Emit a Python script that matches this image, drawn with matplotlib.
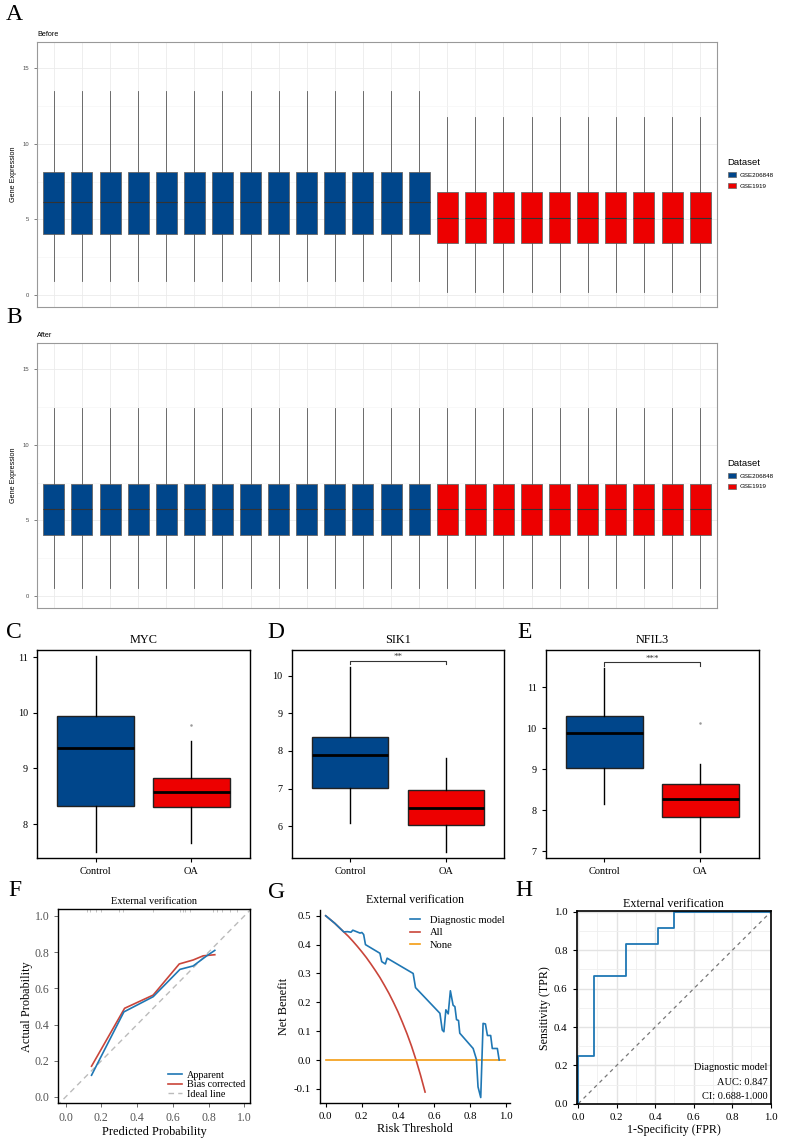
import numpy as np
import matplotlib
matplotlib.use("Agg")
import matplotlib.pyplot as plt
from matplotlib.patches import Patch
from matplotlib.ticker import MultipleLocator

W, H = 788, 1144

# ---- data ----
datasets = ["GSE206848", "GSE1919"]
n_samples = [14, 10]
# per-sample box stats: whislo, q1, median, q3, whishi
before_stats = [[0.93, 4.05, 6.15, 8.17, 13.5], [0.22, 3.46, 5.12, 6.80, 11.8]]
after_stats = [[0.53, 4.03, 5.73, 7.41, 12.43], [0.53, 4.03, 5.73, 7.41, 12.43]]

groups = ["Control", "OA"]
genes = ["MYC", "SIK1", "NFIL3"]
gene_stats = {
    "MYC": [[7.49, 8.32, 9.37, 9.94, 11.02], [7.66, 8.31, 8.58, 8.82, 9.49]],
    "SIK1": [[6.10, 7.01, 7.90, 8.38, 10.24], [5.31, 6.03, 6.49, 6.96, 7.81]],
    "NFIL3": [[8.15, 9.04, 9.88, 10.31, 11.47], [6.97, 7.82, 8.28, 8.63, 9.13]],
}
gene_outliers = {"MYC": [[], [9.79]], "SIK1": [[], []], "NFIL3": [[], [10.12]]}
gene_signif = {"MYC": None, "SIK1": "**", "NFIL3": "***"}

cal_pred_app = [0.145, 0.326, 0.49, 0.64, 0.714, 0.79, 0.835]
cal_app = [0.12, 0.47, 0.554, 0.705, 0.724, 0.78, 0.81]
cal_pred_bc = [0.145, 0.33, 0.49, 0.636, 0.714, 0.77, 0.835]
cal_bc = [0.17, 0.49, 0.563, 0.735, 0.757, 0.78, 0.786]
cal_rug = [0.12, 0.136, 0.17, 0.2, 0.30, 0.32, 0.49, 0.64, 0.655, 0.668, 0.696,
           0.826, 0.845, 0.878, 0.92, 0.957]

dca_thr = [0.0, 0.05, 0.1, 0.12, 0.14, 0.15, 0.17, 0.19, 0.2, 0.21, 0.22, 0.30,
           0.31, 0.33, 0.34, 0.484, 0.497, 0.632, 0.645, 0.654, 0.665, 0.678, 0.69,
           0.705, 0.715, 0.724, 0.735, 0.742, 0.816, 0.834, 0.843, 0.858, 0.871,
           0.884, 0.895, 0.913, 0.922, 0.95, 0.96]
dca_model = [0.5, 0.474, 0.444, 0.445, 0.443, 0.45, 0.445, 0.44, 0.442, 0.435, 0.40,
             0.37, 0.341, 0.333, 0.353, 0.30, 0.251, 0.162, 0.104, 0.098, 0.174,
             0.16, 0.24, 0.19, 0.185, 0.14, 0.137, 0.093, 0.04, 0.003, -0.093,
             -0.13, 0.127, 0.125, 0.085, 0.085, 0.04, 0.04, 0.0]
dca_all_thr = [0.0, 0.025, 0.05, 0.075, 0.1, 0.125, 0.15, 0.175, 0.2, 0.225, 0.25,
               0.275, 0.3, 0.325, 0.35, 0.375, 0.4, 0.425, 0.45, 0.475, 0.5, 0.525, 0.55]
dca_all = [0.5, 0.487, 0.474, 0.459, 0.444, 0.429, 0.412, 0.394, 0.375, 0.355, 0.333,
           0.310, 0.286, 0.259, 0.231, 0.2, 0.167, 0.130, 0.091, 0.048, 0.0, -0.053, -0.111]
dca_none_thr = [0.0, 0.99]
dca_none = [0.0, 0.0]

roc_fpr = [0, 0, 0.083, 0.083, 0.25, 0.25, 0.417, 0.417, 0.5, 0.5, 1.0]
roc_tpr = [0, 0.25, 0.25, 0.667, 0.667, 0.833, 0.833, 0.917, 0.917, 1.0, 1.0]
auc_text = ["Diagnostic model", "AUC: 0.847", "CI: 0.688-1.000"]

BLUE = "#00468B"
RED = "#ED0000"
SANS = "Liberation Sans"
SERIF = "Liberation Serif"

plt.rcParams["font.family"] = SERIF

fig = plt.figure(figsize=(W / 100, H / 100), dpi=100)


def px_axes(l, t, r, b):
    return fig.add_axes([l / W, 1 - b / H, (r - l) / W, (b - t) / H])


def letter(x, y, s):
    fig.text(x / W, 1 - y / H, s, fontsize=17, family=SERIF, va="center", ha="left")


def stats_dict(s, fliers=()):
    return dict(whislo=s[0], q1=s[1], med=s[2], q3=s[3], whishi=s[4], fliers=list(fliers))


def fmt1(vals):
    return [f"{v:.1f}" for v in vals]


# ---- A / B : batch boxplots ----
def batch_panel(top, bottom, title, stats):
    ax = px_axes(37, top, 717, bottom)
    boxes, colors = [], []
    for s, n, c in zip(stats, n_samples, [BLUE, RED]):
        boxes += [stats_dict(s) for _ in range(n)]
        colors += [c] * n
    pos = np.arange(1, len(boxes) + 1)
    art = ax.bxp(boxes, positions=pos, widths=0.75, patch_artist=True, showcaps=False,
                 showfliers=False,
                 boxprops=dict(edgecolor="#666666", linewidth=0.6),
                 medianprops=dict(color="#333333", linewidth=0.8),
                 whiskerprops=dict(color="#555555", linewidth=0.6))
    for p, c in zip(art["boxes"], colors):
        p.set_facecolor(c)
    ax.set_xlim(0.4, len(boxes) + 0.6)
    ax.set_ylim(-0.8, 16.75)
    ax.set_xticks(pos)
    ax.set_xticklabels([])
    ax.tick_params(axis="x", length=0)
    ax.yaxis.set_major_locator(MultipleLocator(5))
    ax.yaxis.set_minor_locator(MultipleLocator(2.5))
    ax.tick_params(axis="y", which="major", labelsize=4.2, colors="#4D4D4D", length=2, width=0.5)
    ax.tick_params(axis="y", which="minor", length=0)
    for lab in ax.get_yticklabels():
        lab.set_family(SANS)
    ax.grid(which="major", color="#EBEBEB", linewidth=0.6)
    ax.grid(which="minor", axis="y", color="#F4F4F4", linewidth=0.4)
    ax.set_axisbelow(True)
    for sp in ax.spines.values():
        sp.set_color("#999999")
        sp.set_linewidth(0.8)
    ax.set_ylabel("Gene Expression", fontsize=5.2, family=SANS, labelpad=4)
    ax.set_title(title, fontsize=5.2, family=SANS, loc="left", pad=4)
    handles = [Patch(facecolor=BLUE, edgecolor="#666666", linewidth=0.5),
               Patch(facecolor=RED, edgecolor="#666666", linewidth=0.5)]
    yc = (top + bottom) / 2
    leg = fig.legend(handles, datasets, title="Dataset", loc="upper left",
                     bbox_to_anchor=(725 / W, 1 - (yc - 19) / H), frameon=False,
                     prop=dict(family=SANS, size=4.5), handlelength=1.3, handleheight=0.9,
                     handletextpad=0.6, labelspacing=0.8, borderaxespad=0)
    leg.get_title().set_fontsize(6.8)
    leg.get_title().set_family(SANS)
    leg._legend_box.align = "left"


batch_panel(42, 307, "Before", before_stats)
batch_panel(343, 608, "After", after_stats)
letter(6, 15, "A")
letter(6, 318, "B")

# ---- C / D / E : gene boxplots ----
gene_lefts = [(37, 250), (291.7, 504.3), (545.7, 758.7)]
gene_ylims = {"MYC": (7.39, 11.13), "SIK1": (5.16, 10.68), "NFIL3": (6.83, 11.91)}
for (l, r), g, lt, lx in zip(gene_lefts, genes, ["C", "D", "E"], [6, 267, 517]):
    ax = px_axes(l, 650, r, 858)
    bs = [stats_dict(s, f) for s, f in zip(gene_stats[g], gene_outliers[g])]
    art = ax.bxp(bs, positions=[1, 2], widths=0.8, patch_artist=True, showcaps=False,
                 boxprops=dict(edgecolor="#222222", linewidth=1.0),
                 medianprops=dict(color="black", linewidth=2.0),
                 whiskerprops=dict(color="black", linewidth=1.0),
                 flierprops=dict(marker="o", markersize=1.8, markerfacecolor="#999999",
                                 markeredgecolor="none"))
    for p, c in zip(art["boxes"], [BLUE, RED]):
        p.set_facecolor(c)
    ax.set_xlim(0.39, 2.61)
    ax.set_ylim(*gene_ylims[g])
    ax.yaxis.set_major_locator(MultipleLocator(1))
    ax.set_xticks([1, 2])
    ax.set_xticklabels(groups, fontsize=7.5)
    ax.tick_params(axis="y", labelsize=7.3, length=3, width=0.8)
    ax.tick_params(axis="x", length=3, width=0.8)
    for sp in ax.spines.values():
        sp.set_linewidth(1.0)
    ax.set_title(g, fontsize=8.8, pad=5)
    if gene_signif[g]:
        span = gene_ylims[g][1] - gene_ylims[g][0]
        top = gene_stats[g][0][4] + span * 0.027
        tip = top - span * 0.015
        ax.plot([1, 1, 2, 2], [tip, top, top, tip], color="#333333", lw=0.8)
        ax.text(1.5, top, gene_signif[g], ha="center", va="bottom", fontsize=6.5, color="#333333")
    letter(lx, 633, lt)

# ---- F : calibration ----
ax = px_axes(58.3, 909.3, 250, 1103.3)
ax.plot([-0.05, 1.05], [-0.05, 1.05], color="#BBBBBB", lw=1.0, ls=(0, (4, 3)), label="Ideal line", zorder=1)
ax.plot(cal_pred_app, cal_app, color="#1F77B4", lw=1.2, label="Apparent", zorder=3)
ax.plot(cal_pred_bc, cal_bc, color="#C9453A", lw=1.2, label="Bias corrected", zorder=2)
ax.vlines(cal_rug, 1.02, 1.037, color="#BBBBBB", lw=0.6)
ax.set_xlim(-0.041, 1.032)
ax.set_ylim(-0.035, 1.037)
ticks = np.arange(0, 1.01, 0.2)
ax.set_xticks(ticks)
ax.set_yticks(ticks)
ax.set_xticklabels(fmt1(ticks))
ax.set_yticklabels(fmt1(ticks))
ax.tick_params(labelsize=8.5, colors="#555555", length=3, width=0.6)
for sp in ax.spines.values():
    sp.set_linewidth(1.0)
ax.set_xlabel("Predicted Probability", fontsize=8.8, labelpad=1)
ax.set_ylabel("Actual Probability", fontsize=8.8, labelpad=1)
ax.set_title("External verification", fontsize=7.5, pad=4)
h, lab = ax.get_legend_handles_labels()
order = [1, 2, 0]
ax.legend([h[i] for i in order], [lab[i] for i in order], loc="lower right", frameon=False,
          fontsize=7.3, handlelength=1.4, handletextpad=0.5, labelspacing=0.05,
          borderaxespad=0.05)
letter(8, 890, "F")

# ---- G : decision curve ----
ax = px_axes(320.3, 910, 510, 1103.3)
ax.plot(dca_thr, dca_model, color="#1F77B4", lw=1.2, label="Diagnostic model", zorder=3)
ax.plot(dca_all_thr, dca_all, color="#C9453A", lw=1.2, label="All", zorder=2)
ax.plot(dca_none_thr, dca_none, color="#F39C12", lw=1.2, label="None", zorder=2)
ax.set_xlim(-0.03, 1.02)
ax.set_ylim(-0.15, 0.52)
ax.set_xticks(ticks)
ax.set_xticklabels(fmt1(ticks))
ax.set_yticks([-0.1, 0.0, 0.1, 0.2, 0.3, 0.4, 0.5])
ax.set_yticklabels(["-0.1", "0.0", "0.1", "0.2", "0.3", "0.4", "0.5"])
ax.spines["top"].set_visible(False)
ax.spines["right"].set_visible(False)
ax.spines["left"].set_linewidth(1.0)
ax.spines["bottom"].set_linewidth(1.0)
ax.tick_params(labelsize=7.8, length=3, width=0.8)
ax.set_xlabel("Risk Threshold", fontsize=8.8, labelpad=1)
ax.set_ylabel("Net Benefit", fontsize=8.8, labelpad=3)
ax.set_title("External verification", fontsize=8.6, pad=5)
ax.legend(loc="upper right", frameon=False, fontsize=7.6, handlelength=1.0,
          handletextpad=0.9, labelspacing=0.3, borderaxespad=0.1,
          bbox_to_anchor=(1.0, 1.0))
letter(268, 892, "G")

# ---- H : ROC ----
ax = px_axes(576.7, 911, 770.7, 1104.3)
ax.plot([0, 1], [0, 1], color="#777777", lw=0.9, ls=(0, (3, 3)))
ax.plot(roc_fpr, roc_tpr, color="#1F77B4", lw=1.3)
ax.set_xlim(-0.008, 1.0)
ax.set_ylim(-0.003, 1.005)
ax.set_xticks(ticks)
ax.set_yticks(ticks)
ax.set_xticklabels(fmt1(ticks))
ax.set_yticklabels(fmt1(ticks))
ax.xaxis.set_minor_locator(MultipleLocator(0.1))
ax.yaxis.set_minor_locator(MultipleLocator(0.1))
ax.grid(which="major", color="#E3E3E3", lw=1.0)
ax.grid(which="minor", color="#EFEFEF", lw=0.6)
ax.set_axisbelow(True)
ax.tick_params(which="minor", length=0)
ax.tick_params(labelsize=7.8, length=3, width=0.8)
for sp in ax.spines.values():
    sp.set_linewidth(1.2)
ax.set_xlabel("1-Specificity (FPR)", fontsize=8.6, labelpad=1)
ax.set_ylabel("Sensitivity (TPR)", fontsize=8.6, labelpad=2)
ax.set_title("External verification", fontsize=8.7, pad=3)
for i, s in enumerate(auc_text):
    ax.text(0.985, 0.19 - i * 0.076, s, transform=ax.transAxes, ha="right", va="center", fontsize=7.5)
letter(515, 890, "H")

fig.savefig("out.png", dpi=100)
